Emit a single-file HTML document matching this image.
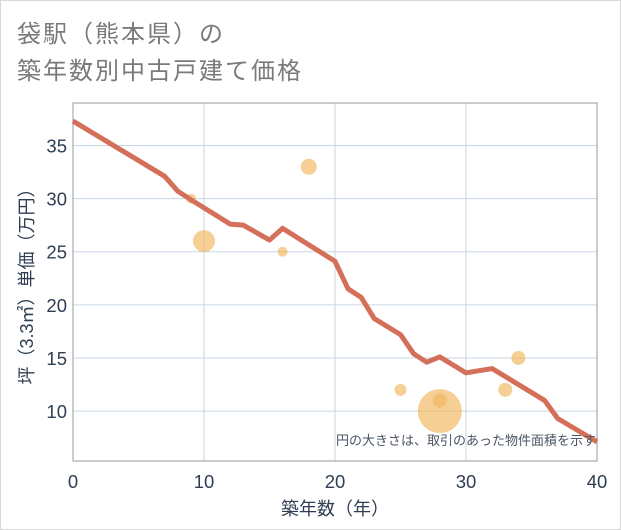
<!DOCTYPE html>
<html><head><meta charset="utf-8"><style>
body{margin:0;background:#fff;}
#wrap{position:relative;width:621px;height:530px;overflow:hidden;background:#fff;font-family:"Liberation Sans","Noto Sans CJK JP",sans-serif;}
#frame{position:absolute;left:0;top:0;width:619px;height:528px;border:1px solid #d8d8d8;}
.title{position:absolute;left:17px;font-size:24px;color:#7a7a7a;letter-spacing:2px;white-space:nowrap;}
</style></head><body>
<div id="wrap">
<div id="frame"></div>
<div class="title" style="top:14px">袋駅（熊本県）の</div>
<div class="title" style="top:51px">築年数別中古戸建て価格</div>
<svg id="chart" width="621" height="530" style="position:absolute;left:0;top:0"></svg>
</div>
<script>
const xTicks=[0,10,20,30,40];
const yTicks=[10,15,20,25,30,35];
const lineX=[0,7,8,9,12,13,15,16,20,21,22,23,25,26,27,28,30,32,36,37,40];
const lineY=[37.3,32.1,30.7,29.9,27.6,27.5,26.1,27.2,24.1,21.5,20.7,18.7,17.2,15.4,14.6,15.1,13.6,14.0,11.0,9.3,7.1];
const bubX=[9,10,16,18,25,28,28,33,34];
const bubY=[30,26,25,33,12,10,11,12,15];
const bubR=[5,11,5,8,6,22,7,7,7];
const L=73,R=597,T=103,B=461,X0=0,X1=40,Y0=5.3,Y1=39;
const sx=v=>L+(v-X0)/(X1-X0)*(R-L);
const sy=v=>B-(v-Y0)/(Y1-Y0)*(B-T);
const svg=document.getElementById('chart');
const NS='http://www.w3.org/2000/svg';
function mk(t,a){const e=document.createElementNS(NS,t);for(const k in a)e.setAttribute(k,a[k]);svg.appendChild(e);return e;}
xTicks.forEach(v=>{
 const g=mk('line',{x1:sx(v),x2:sx(v),y1:T,y2:B,stroke:'#c9d6e3','stroke-width':1});
 
 
 const t=mk('text',{x:sx(v),y:B+27,'text-anchor':'middle','font-size':18.5,fill:'#2f3e52'});
 t.textContent=v;
 
 
});
yTicks.forEach(v=>{
 const g=mk('line',{x1:L,x2:R,y1:sy(v),y2:sy(v),stroke:'#c9d6e3','stroke-width':1});
 
 
 const t=mk('text',{x:L-6,y:sy(v)+7,'text-anchor':'end','font-size':18.5,fill:'#2f3e52'});
 t.textContent=v;
 
 
});
const ax=mk('rect',{x:L,y:T,width:R-L,height:B-T,fill:'none',stroke:'#999','stroke-width':1});


bubX.forEach((v,i)=>{
 const c=mk('circle',{cx:sx(v),cy:sy(bubY[i]),r:bubR[i],fill:'#f0b65a','fill-opacity':0.65});
 
 
});
const pl=mk('polyline',{points:lineX.map((v,i)=>sx(v)+','+sy(lineY[i])).join(' '),fill:'none',stroke:'#d4705a','stroke-width':5,'stroke-linejoin':'round'});


const note=mk('text',{x:R-1,y:445,'text-anchor':'end','font-size':13,fill:'#4a5566'});
note.textContent='円の大きさは、取引のあった物件面積を示す';


const xt=mk('text',{x:(L+R)/2,y:515,'text-anchor':'middle','font-size':18,fill:'#2f3e52'});
xt.textContent='築年数（年）';


const yt=mk('text',{x:0,y:0,'text-anchor':'middle','font-size':18,fill:'#2f3e52',transform:`translate(33,${(T+B)/2}) rotate(-90)`});
yt.textContent='坪（3.3㎡）単価（万円）';


</script>
</body></html>
